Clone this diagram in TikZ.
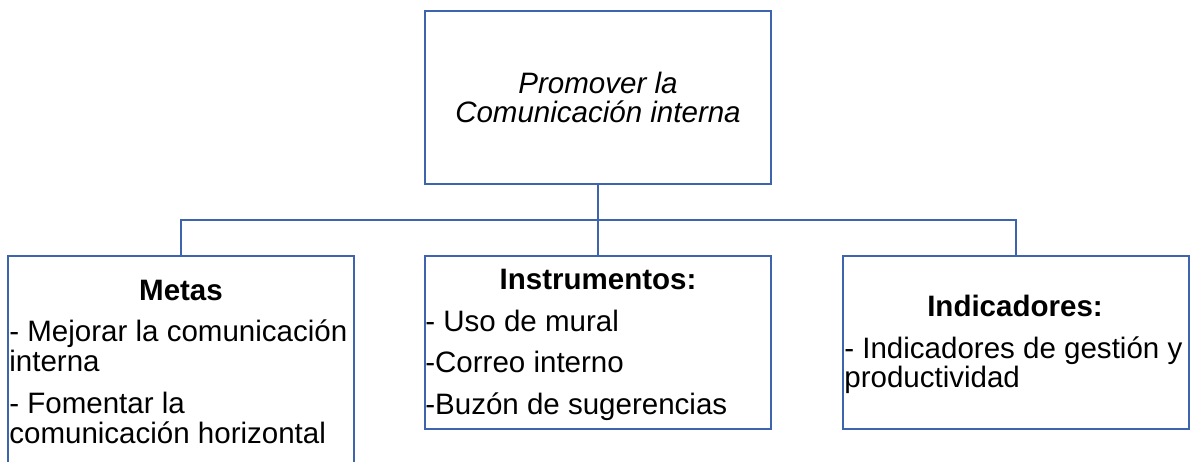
\documentclass[tikz,border=0pt]{standalone}
\usepackage{fontspec}
\setmainfont{Liberation Sans}
\definecolor{azul}{HTML}{3E64AE}
\begin{document}
\begin{tikzpicture}[x=0.02cm, y=-0.02cm,
    caja/.style={draw=azul, line width=1.4pt, minimum width=6.92cm, inner sep=0pt},
    conector/.style={draw=azul, line width=1.4pt},
    titulo/.style={font=\fontsize{16.8}{17}\selectfont\bfseries, inner sep=0pt, anchor=base},
    texto/.style={font=\fontsize{16.8}{17}\selectfont, inner sep=0pt, anchor=base west}]
    \useasboundingbox (0,0) rectangle (1190,461);
    % Caja principal
    \node[caja, minimum height=3.46cm, align=center, font=\fontsize{16.8}{17}\selectfont\itshape] (prom) at (598,97.5) {Promover la\\Comunicación interna};
    % Cajas inferiores
    \node[caja, minimum height=4.38cm] (meta) at (181,365.5) {};
    \node[caja, minimum height=3.46cm] (inst) at (598,342.5) {};
    \node[caja, minimum height=3.46cm] (indi) at (1016,342.5) {};
    % Conectores
    \coordinate (bus) at (598,220);
    \draw[conector] (prom.south) -- (inst.north);
    \draw[conector] (meta.north) |- (bus) -| (indi.north);
    % Metas
    \node[titulo] (metaT) at (181,300) {Metas};
    \node[texto] (meta1) at (9,341) {- Mejorar la comunicación};
    \node[texto] (meta2) at (9,371) {interna};
    \node[texto] (meta3) at (9,413) {- Fomentar la};
    \node[texto] (meta4) at (9,443) {comunicación horizontal};
    % Instrumentos
    \node[titulo] (instT) at (598,289) {Instrumentos:};
    \node[texto] (inst1) at (425,331) {- Uso de mural};
    \node[texto] (inst2) at (425,372) {-Correo interno};
    \node[texto] (inst3) at (425,414) {-Buzón de sugerencias};
    % Indicadores
    \node[titulo] (indiT) at (1015,316) {Indicadores:};
    \node[texto] (indi1) at (844,358) {- Indicadores de gestión y};
    \node[texto] (indi2) at (844,387) {productividad};
\end{tikzpicture}
\end{document}
